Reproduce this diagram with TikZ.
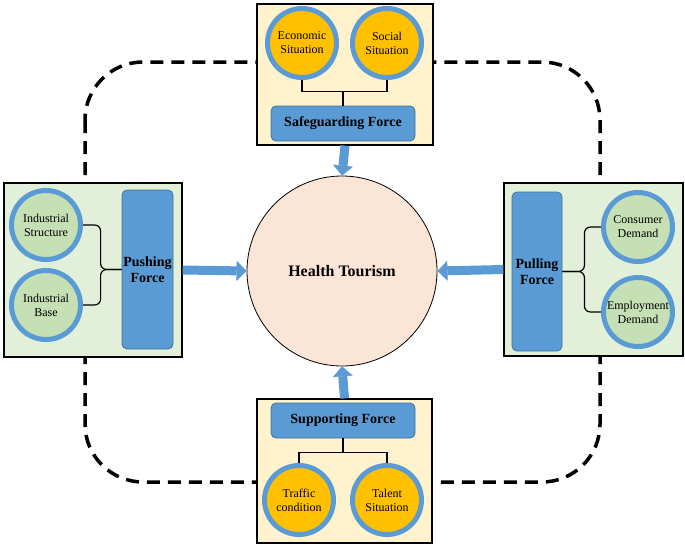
\documentclass[tikz,border=0pt]{standalone}
\usepackage{fontspec}
\setmainfont{Liberation Serif}
\usetikzlibrary{arrows.meta, positioning, calc}

\definecolor{paleyellow}{HTML}{FFF2CC}
\definecolor{palegreen}{HTML}{E2F0D9}
\definecolor{ringblue}{HTML}{5B9BD5}
\definecolor{forceblue}{HTML}{5B9BD5}
\definecolor{forceedge}{HTML}{41719C}
\definecolor{factororange}{HTML}{FFC000}
\definecolor{factorgreen}{HTML}{C5E0B4}
\definecolor{hubpink}{HTML}{FBE5D6}

\begin{document}
\begin{tikzpicture}[
    x=1pt, y=-1pt,
    >=Stealth,
    outerbox/.style={rectangle, draw=black, line width=1.2pt, inner sep=0pt},
    yellowbox/.style={outerbox, fill=paleyellow},
    greenbox/.style={outerbox, fill=palegreen},
    force/.style={rectangle, rounded corners=5pt, draw=forceedge, line width=0.8pt, fill=forceblue, inner sep=0pt, align=center, font=\fontsize{14}{16}\selectfont\bfseries},
    factor/.style={circle, draw=ringblue, line width=5pt, fill=factororange, minimum size=69pt, inner sep=0pt, align=center, font=\fontsize{12}{14}\selectfont},
    greenfactor/.style={factor, fill=factorgreen},
    hub/.style={circle, draw=black, line width=0.8pt, fill=hubpink, minimum size=190pt, font=\fontsize{16}{18}\selectfont\bfseries},
    blockarrow/.style={draw=forceblue, line width=9pt, -{Triangle[width=20pt, length=10pt, line width=0.5pt]}},
    brace/.style={draw=black, line width=1.2pt, rounded corners=6pt},
    bracket/.style={draw=black, line width=1.2pt},
    loopline/.style={draw=black, line width=3.5pt, dash pattern=on 13pt off 8pt, rounded corners=58pt},
]
\useasboundingbox (0,0) rectangle (685,546);

% === Dashed loop behind everything ===
\draw[loopline] (85,62) rectangle (600,482);

% === Outer boxes ===
\node[yellowbox, minimum width=176pt, minimum height=141pt] (topbox) at (345,74.5) {};
\node[greenbox, minimum width=178pt, minimum height=174pt] (leftbox) at (93,270) {};
\node[greenbox, minimum width=179pt, minimum height=173pt] (rightbox) at (593.5,269.5) {};
\node[yellowbox, minimum width=175pt, minimum height=144pt] (botbox) at (344.5,471) {};

% === Centre ===
\node[hub] (hub) at (342,271) {Health Tourism};

% === Forces ===
\node[force, minimum width=144pt, minimum height=35pt] (safe) at (343,123.5) {Safeguarding Force};
\node[force, minimum width=51pt, minimum height=159pt] (push) at (147.5,269.5) {Pushing\\Force};
\node[force, minimum width=50pt, minimum height=159pt] (pull) at (537,271.5) {Pulling\\Force};
\node[force, minimum width=144pt, minimum height=35pt] (support) at (343,420.5) {Supporting Force};

% === Factors ===
\node[factor] (econ) at (302,43) {Economic\\Situation};
\node[factor] (social) at (387,43) {Social\\Situation};
\node[greenfactor] (indstr) at (46,225) {Industrial\\Structure};
\node[greenfactor] (indbase) at (46,305) {Industrial\\Base};
\node[greenfactor] (consumer) at (638,227) {Consumer\\Demand};
\node[greenfactor] (employ) at (638,312) {Employment\\Demand};
\node[factor] (traffic) at (299,500) {Traffic\\condition};
\node[factor] (talent) at (387,500) {Talent\\Situation};

% === Brackets ===
\coordinate (tjoin) at ($(safe.north)+(0,-14)$);
\draw[bracket] (econ.south) |- (tjoin) -| (social.south);
\draw[bracket] (tjoin) -- (safe.north);

\coordinate (bjoin) at ($(support.south)+(0,14)$);
\draw[bracket] (traffic.north) |- (bjoin) -| (talent.north);
\draw[bracket] (bjoin) -- (support.south);

\coordinate (lbrace) at ($(push.west)+(-21,0)$);
\draw[brace] (indstr.east) -| (lbrace) -- (push.west);
\draw[brace] (indbase.east) -| (lbrace) -- (push.west);

\coordinate (rbrace) at ($(pull.east)+(22,0)$);
\draw[brace] (consumer.west) -| (rbrace) -- (pull.east);
\draw[brace] (employ.west) -| (rbrace) -- (pull.east);

% === Block arrows into the centre ===
\draw[blockarrow] (topbox.south) -- (hub.north);
\draw[blockarrow] (botbox.north) -- (hub.south);
\draw[blockarrow] (leftbox.east) -- (hub.west);
\draw[blockarrow] (rightbox.west) -- (hub.east);

\end{tikzpicture}
\end{document}
